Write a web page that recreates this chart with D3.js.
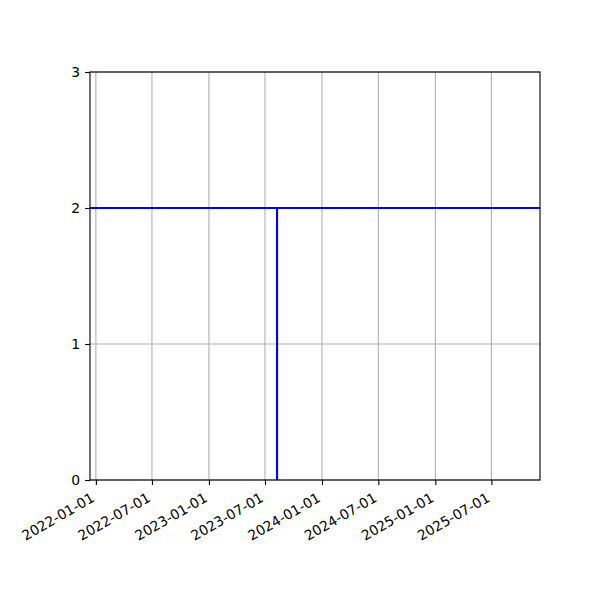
<!DOCTYPE html>
<html>
<head>
<meta charset="utf-8">
<script src="https://cdn.jsdelivr.net/npm/d3@7"></script>
<style>
  body { margin: 0; background: #fff; }
  svg text { font-family: "DejaVu Sans", sans-serif; font-size: 13.9px; fill: #000; }
</style>
</head>
<body>
<div id="chart"></div>
<script>
// data
let lineDates = ["2021-12-13", "2023-08-09", "2023-08-09", "2023-08-09", "2025-12-05"]
let lineValues = [2, 2, 0, 2, 2]
let xTicks = ["2022-01-01", "2022-07-01", "2023-01-01", "2023-07-01",
              "2024-01-01", "2024-07-01", "2025-01-01", "2025-07-01"]
let yTicks = [0, 1, 2, 3]
let xLimits = ["2021-12-13", "2025-12-05"]
let yLimits = [0, 3]

var parse = d3.utcParse("%Y-%m-%d")
var fmt = d3.utcFormat("%Y-%m-%d")

var margin = {top: 72, right: 60, bottom: 120, left: 90},
    width = 600 - margin.left - margin.right,
    height = 600 - margin.top - margin.bottom;

var svg = d3.select("#chart")
  .append("svg")
    .attr("width", 600)
    .attr("height", 600)
  .append("g")
    .attr("transform", "translate(" + margin.left + "," + margin.top + ")");

var x = d3.scaleUtc()
    .domain(xLimits.map(parse))
    .range([0, width]);

var y = d3.scaleLinear()
    .domain(yLimits)
    .range([height, 0]);

// grid
svg.append("g")
  .selectAll("line.vg")
  .data(xTicks.map(parse))
  .enter().append("line")
    .attr("x1", d => x(d)).attr("x2", d => x(d))
    .attr("y1", 0).attr("y2", height)
    .attr("stroke", "#b0b0b0").attr("stroke-width", 1.1);

svg.append("g")
  .selectAll("line.hg")
  .data(yTicks)
  .enter().append("line")
    .attr("x1", 0).attr("x2", width)
    .attr("y1", d => y(d)).attr("y2", d => y(d))
    .attr("stroke", "#b0b0b0").attr("stroke-width", 1.1);

// the line
var line = d3.line()
    .x((d, i) => x(parse(lineDates[i])))
    .y(d => y(d));

svg.append("defs").append("clipPath").attr("id", "clip")
  .append("rect").attr("width", width).attr("height", height);

svg.append("path")
    .datum(lineValues)
    .attr("clip-path", "url(#clip)")
    .attr("fill", "none")
    .attr("stroke", "#0000ff")
    .attr("stroke-width", 2.1)
    .attr("d", line);

// axes
var xAxis = svg.append("g")
    .attr("transform", "translate(0," + height + ")")
    .call(d3.axisBottom(x).tickValues(xTicks.map(parse)).tickFormat(fmt).tickSize(4.9).tickPadding(0));
xAxis.select(".domain").remove();
xAxis.selectAll("line").attr("stroke", "#000").attr("stroke-width", 1.1);
xAxis.selectAll("text")
    .attr("font-family", null).attr("font-size", null)
    .attr("y", 0).attr("dy", "0.72em")
    .style("text-anchor", "end")
    .attr("transform", "translate(-6,12) rotate(-30)");

var yAxis = svg.append("g")
    .call(d3.axisLeft(y).tickValues(yTicks).tickFormat(d3.format("d")).tickSize(4.9).tickPadding(4.9));
yAxis.select(".domain").remove();
yAxis.selectAll("line").attr("stroke", "#000").attr("stroke-width", 1.1);
yAxis.selectAll("text").attr("font-family", null).attr("font-size", null);

// frame
svg.append("rect")
    .attr("width", width).attr("height", height)
    .attr("fill", "none").attr("stroke", "#000").attr("stroke-width", 1.1);
</script>
</body>
</html>
